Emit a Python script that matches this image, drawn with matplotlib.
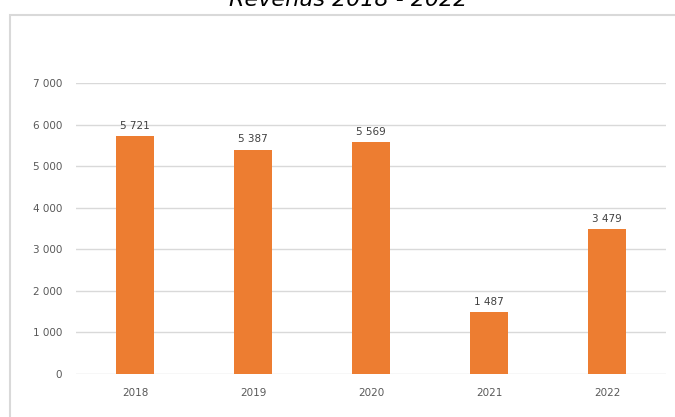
import matplotlib
matplotlib.use("Agg")
import matplotlib.pyplot as plt
from matplotlib.patches import Rectangle

# data
years = ["2018", "2019", "2020", "2021", "2022"]
revenus = [5721, 5387, 5569, 1487, 3479]
yticks = [0, 1000, 2000, 3000, 4000, 5000, 6000, 7000]


def fmt(v):
    return f"{v:,}".replace(",", " ")


fig = plt.figure(figsize=(6.75, 4.17), dpi=100)
ax = fig.add_axes([76 / 675, 1 - 374 / 417, 590 / 675, (374 - 83) / 417])

# chart frame (cut off at right and bottom like the screenshot)
frame = Rectangle((10 / 675, -0.05), 1.2, 1 - 15 / 417 + 0.05,
                  transform=fig.transFigure, fill=False,
                  edgecolor="#d9d9d9", lw=1.5, zorder=0)
fig.patches.append(frame)

x = range(len(years))
bars = ax.bar(x, revenus, width=0.315, color="#ED7D31", zorder=3)
for b, v in zip(bars, revenus):
    ax.annotate(fmt(v), (b.get_x() + b.get_width() / 2, v),
                xytext=(0, 4), textcoords="offset points",
                ha="center", va="bottom", fontsize=7.5, color="#404040")

ax.set_xlim(-0.5, len(years) - 0.5)
ax.set_ylim(0, 7000)
ax.set_xticks(list(x))
ax.set_xticklabels(years)
ax.set_yticks(yticks)
ax.set_yticklabels([fmt(t) for t in yticks])
ax.tick_params(axis="both", length=0, labelsize=7.5, labelcolor="#595959")
ax.tick_params(axis="y", pad=10)
ax.tick_params(axis="x", pad=10)
ax.grid(axis="y", color="#d9d9d9", lw=1, zorder=0)
for s in ax.spines.values():
    s.set_visible(False)

# title is partly cut off at the top edge, as in the screenshot
fig.text(348 / 675, 1 - 6 / 417, "Revenus 2018 - 2022", ha="center",
         va="baseline", fontsize=16, style="italic", color="black")

fig.savefig("out.png", dpi=100)
